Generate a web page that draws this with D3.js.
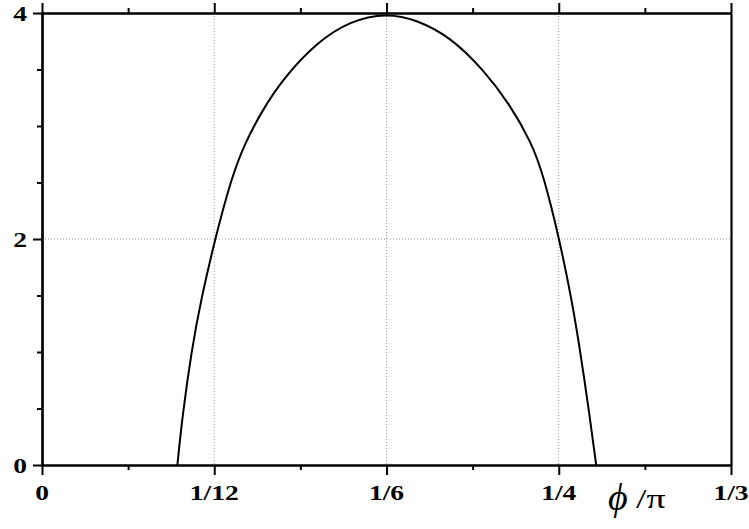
<!DOCTYPE html>
<html lang="en">
<head>
<meta charset="UTF-8">
<title>phi / pi</title>
<script src="https://d3js.org/d3.v7.min.js"></script>
<style>
body{ margin:0; background:#fff; }
svg{ display:block; }
.lbl{ font-family:"Liberation Serif","Times New Roman",serif; font-weight:bold; font-size:22px; fill:#000; }
.ttl{ font-family:"Liberation Serif","Times New Roman",serif; fill:#000; }
</style>
</head>
<body>
<svg id="chart" width="749" height="529"></svg>
<script>
// curve
var phi = [0.0655, 0.0679, 0.0724, 0.0769, 0.0837, 0.0918, 0.0982, 0.1063, 0.1167, 0.1329, 0.1490, 0.1667,
           0.1813, 0.1974, 0.2135, 0.2264, 0.2369, 0.2425, 0.2503, 0.2563, 0.2603, 0.2650, 0.2681];
var val = [0, 0.43, 1.02, 1.46, 2.00, 2.55, 2.85, 3.13, 3.42, 3.74, 3.93, 4.00,
           3.94, 3.79, 3.50, 3.19, 2.85, 2.57, 2.00, 1.46, 1.02, 0.43, 0];

var xTicks = [0, 1/12, 1/6, 1/4, 1/3];
var xLabels = ["0", "1/12", "1/6", "1/4", "1/3"];
var xMinor = [1/24, 3/24, 5/24, 7/24];
var yTicks = [0, 2, 4];
var yLabels = ["0", "2", "4"];
var yMinor = [0.5, 1, 1.5, 2.5, 3, 3.5];
var xGrid = [1/12, 1/6, 1/4];
var yGrid = [2];

var svg = d3.select("#chart"),
  margin = {top: 13, right: 18, bottom: 64, left: 42},
  W = +svg.attr("width") - margin.left - margin.right,
  H = +svg.attr("height") - margin.top - margin.bottom;

var x = d3.scaleLinear().domain([0, 1/3]).range([0, W]);
var y = d3.scaleLinear().domain([0, 4]).range([H, 0]);

var g = svg.append("g").attr("transform", "translate(" + margin.left + "," + margin.top + ")");

// dotted grid
g.selectAll(".gx").data(xGrid).enter().append("line")
  .attr("x1", d => x(d)).attr("x2", d => x(d)).attr("y1", 0).attr("y2", H)
  .attr("stroke", "#999").attr("stroke-width", 1).attr("stroke-dasharray", "1,2");
g.selectAll(".gy").data(yGrid).enter().append("line")
  .attr("x1", 0).attr("x2", W).attr("y1", d => y(d)).attr("y2", d => y(d))
  .attr("stroke", "#999").attr("stroke-width", 1).attr("stroke-dasharray", "1,2");

// curve
var line = d3.line()
  .x((d, i) => x(phi[i]))
  .y((d, i) => y(val[i]))
  .curve(d3.curveBasis);
g.append("path").datum(val).attr("d", line)
  .attr("fill", "none").attr("stroke", "#000").attr("stroke-width", 2);

function styleAxis(sel, w){
  sel.selectAll("path").attr("stroke", "#000").attr("stroke-width", 2.2);
  sel.selectAll("line").attr("stroke", "#000").attr("stroke-width", w);
  sel.selectAll("text").remove();
}

// bottom
g.append("g").attr("transform", "translate(0," + H + ")")
  .call(d3.axisBottom(x).tickValues(xTicks).tickSizeInner(10).tickSizeOuter(0)).call(styleAxis, 2);
g.append("g").attr("transform", "translate(0," + H + ")")
  .call(d3.axisBottom(x).tickValues(xMinor).tickSizeInner(5).tickSizeOuter(0)).call(styleAxis, 2);
// top
g.append("g")
  .call(d3.axisTop(x).tickValues(xTicks).tickSizeInner(10).tickSizeOuter(0)).call(styleAxis, 2);
g.append("g")
  .call(d3.axisTop(x).tickValues(xMinor).tickSizeInner(5).tickSizeOuter(0)).call(styleAxis, 2);
// left
g.append("g")
  .call(d3.axisLeft(y).tickValues(yTicks).tickSizeInner(9).tickSizeOuter(0)).call(styleAxis, 2);
g.append("g")
  .call(d3.axisLeft(y).tickValues(yMinor).tickSizeInner(5).tickSizeOuter(0)).call(styleAxis, 2);
// right
g.append("g").attr("transform", "translate(" + W + ",0)")
  .call(d3.axisRight(y).tickValues([]).tickSizeOuter(0)).call(styleAxis, 2);

// tick labels
g.selectAll(".xl").data(xTicks).enter().append("text")
  .attr("class", "lbl")
  .attr("transform", d => "translate(" + x(d) + "," + (H + 35) + ") scale(1.25,1)")
  .attr("text-anchor", "middle")
  .text((d, i) => xLabels[i]);
g.selectAll(".yl").data(yTicks).enter().append("text")
  .attr("class", "lbl")
  .attr("transform", d => "translate(-15," + (y(d) + 8) + ") scale(1.25,1)")
  .attr("text-anchor", "end")
  .text((d, i) => yLabels[i]);

// axis title: phi / pi
svg.append("text").attr("class", "ttl")
  .attr("x", 608).attr("y", 510)
  .style("font-style", "italic").style("font-size", "38px")
  .text("\u03D5");
svg.append("text").attr("class", "ttl")
  .attr("transform", "translate(636,508) scale(1.4,1)")
  .style("font-size", "27px")
  .text("/\u03C0");
</script>
</body>
</html>
